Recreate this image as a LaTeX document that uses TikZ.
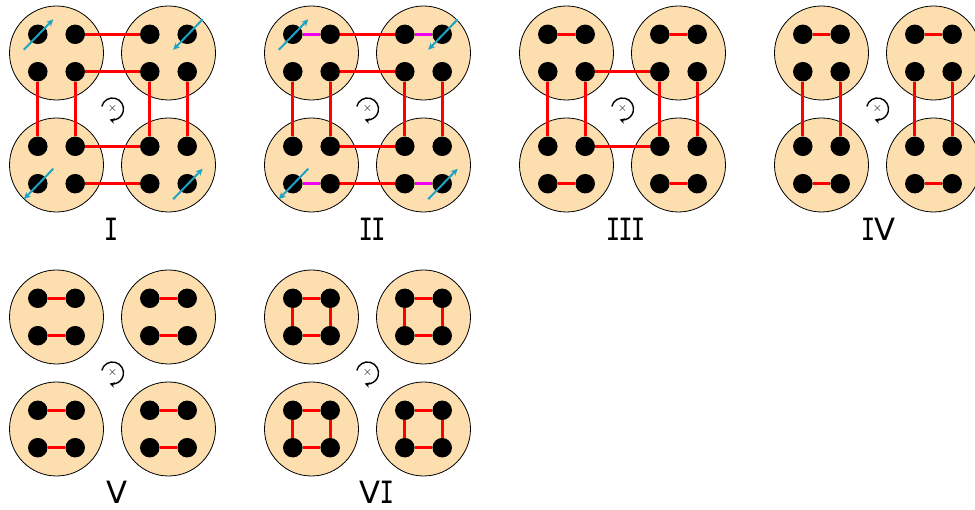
\documentclass[tikz,border=0pt]{standalone}
\usepackage{fontspec}
\usepackage{graphicx}
\usetikzlibrary{arrows.meta}
\newfontfamily\labmono{DejaVu Sans Mono}
\newfontfamily\labsans{DejaVu Sans}
\definecolor{peach}{HTML}{FDDFAF}
\definecolor{spincol}{HTML}{1FA3C4}
\definecolor{bondred}{HTML}{FF0000}
\definecolor{bondmag}{HTML}{F000F0}
\newcommand{\labI}{\scalebox{0.78}[1]{\labmono I}}
\newcommand{\labV}{{\labsans V}}
\tikzset{
  blob/.style={circle, minimum size=94pt, inner sep=0pt, fill=peach, draw=black, line width=0.8pt},
  dot/.style={circle, minimum size=19.5pt, inner sep=0pt, fill=black},
  bond/.style={draw=bondred, line width=3pt},
  magbond/.style={draw=bondmag, line width=2.6pt},
  spin/.style={draw=spincol, line width=2pt, -{Stealth[length=7pt,width=6.5pt]}},
  rotmark/.style={inner sep=0pt, font=\fontsize{13}{13}\selectfont},
  rotarc/.style={draw=black, line width=1.4pt, -{Stealth[length=5pt,width=5.5pt]}},
  panellabel/.style={inner sep=0pt, font=\fontsize{30.7}{31}\selectfont}
}
\newcommand{\mypanel}[3]{%
  \foreach \c/\cx/\cy in {a/56.5/53, b/168.5/53, c/56.5/165, d/168.5/165}{
    \node[blob] (#1\c) at (#2+\cx, #3+\cy) {};
    \foreach \d/\dx/\dy in {1/-18.7/-18.7, 2/18.7/-18.7, 3/-18.7/18.7, 4/18.7/18.7}{
      \node[dot] (#1\c\d) at (#2+\cx+\dx, #3+\cy+\dy) {};
    }
  }
  \node[rotmark] (#1r) at (#2+112.5, #3+109) {$\times$};
  \draw[rotarc] ([shift={(194:11)}]#1r.center) arc[start angle=194, end angle=465, radius=11];
}
\begin{document}
\begin{tikzpicture}[x=1pt, y=-1pt]
\useasboundingbox (0,0) rectangle (975,510);
\fill[white] (0,0) rectangle (975,510);
\clip (0,0) rectangle (975,510);

% ---------- Panel I ----------
\mypanel{pA}{0}{0}
\draw[bond] (pAa2) -- (pAb1);
\draw[bond] (pAa4) -- (pAb3);
\draw[bond] (pAc2) -- (pAd1);
\draw[bond] (pAc4) -- (pAd3);
\draw[bond] (pAa3) -- (pAc1);
\draw[bond] (pAa4) -- (pAc2);
\draw[bond] (pAb3) -- (pAd1);
\draw[bond] (pAb4) -- (pAd2);
\draw[spin] ([shift={(-14,15.5)}]pAa1.center) -- ([shift={(15.5,-15)}]pAa1.center);
\draw[spin] ([shift={(15.5,-15)}]pAb2.center) -- ([shift={(-14,15.5)}]pAb2.center);
\draw[spin] ([shift={(15.5,-15)}]pAc3.center) -- ([shift={(-14,15.5)}]pAc3.center);
\draw[spin] ([shift={(-14,15.5)}]pAd4.center) -- ([shift={(15.5,-15)}]pAd4.center);
\node[panellabel] (labA) at (111,229.5) {\labI};

% ---------- Panel II ----------
\mypanel{pB}{255}{0}
\draw[bond] (pBa2) -- (pBb1);
\draw[bond] (pBa4) -- (pBb3);
\draw[bond] (pBc2) -- (pBd1);
\draw[bond] (pBc4) -- (pBd3);
\draw[bond] (pBa3) -- (pBc1);
\draw[bond] (pBa4) -- (pBc2);
\draw[bond] (pBb3) -- (pBd1);
\draw[bond] (pBb4) -- (pBd2);
\draw[magbond] (pBa1) -- (pBa2);
\draw[magbond] (pBb1) -- (pBb2);
\draw[magbond] (pBc3) -- (pBc4);
\draw[magbond] (pBd3) -- (pBd4);
\draw[spin] ([shift={(-14,15.5)}]pBa1.center) -- ([shift={(15.5,-15)}]pBa1.center);
\draw[spin] ([shift={(15.5,-15)}]pBb2.center) -- ([shift={(-14,15.5)}]pBb2.center);
\draw[spin] ([shift={(15.5,-15)}]pBc3.center) -- ([shift={(-14,15.5)}]pBc3.center);
\draw[spin] ([shift={(-14,15.5)}]pBd4.center) -- ([shift={(15.5,-15)}]pBd4.center);
\node[panellabel] (labB) at (372,229.5) {\labI\kern-1.9pt\labI};

% ---------- Panel III ----------
\mypanel{pC}{510}{0}
\draw[bond] (pCa1) -- (pCa2);
\draw[bond] (pCb1) -- (pCb2);
\draw[bond] (pCc3) -- (pCc4);
\draw[bond] (pCd3) -- (pCd4);
\draw[bond] (pCa4) -- (pCb3);
\draw[bond] (pCc2) -- (pCd1);
\draw[bond] (pCa3) -- (pCc1);
\draw[bond] (pCa4) -- (pCc2);
\draw[bond] (pCb3) -- (pCd1);
\draw[bond] (pCb4) -- (pCd2);
\node[panellabel] (labC) at (625.5,229.5) {\labI\kern-1.9pt\labI\kern-1.9pt\labI};

% ---------- Panel IV ----------
\mypanel{pD}{765}{0}
\draw[bond] (pDa1) -- (pDa2);
\draw[bond] (pDb1) -- (pDb2);
\draw[bond] (pDc3) -- (pDc4);
\draw[bond] (pDd3) -- (pDd4);
\draw[bond] (pDa3) -- (pDc1);
\draw[bond] (pDa4) -- (pDc2);
\draw[bond] (pDb3) -- (pDd1);
\draw[bond] (pDb4) -- (pDd2);
\node[panellabel] (labD) at (878.3,229.5) {\labI\kern-0.5pt\labV};

% ---------- Panel V ----------
\mypanel{pE}{0}{264}
\foreach \c in {a,b,c,d}{
  \draw[bond] (pE\c1) -- (pE\c2);
  \draw[bond] (pE\c3) -- (pE\c4);
}
\node[panellabel] (labE) at (117,492.5) {\labV};

% ---------- Panel VI ----------
\mypanel{pF}{255}{264}
\foreach \c in {a,b,c,d}{
  \draw[bond] (pF\c1) -- (pF\c2);
  \draw[bond] (pF\c3) -- (pF\c4);
  \draw[bond] (pF\c1) -- (pF\c3);
  \draw[bond] (pF\c2) -- (pF\c4);
}
\node[panellabel] (labF) at (376.5,492.5) {\labV\kern-0.5pt\labI};
\end{tikzpicture}
\end{document}
